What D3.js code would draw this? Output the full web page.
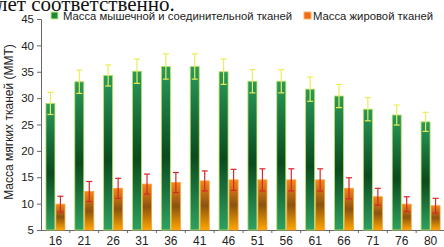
<!DOCTYPE html>
<html>
<head>
<meta charset="utf-8">
<script src="https://cdn.jsdelivr.net/npm/d3@7"></script>
<style>
body { margin: 0; background: #fff; }
svg { display: block; font-family: "Liberation Sans", Arial, sans-serif; }
</style>
</head>
<body>
<script>
var w = 444, h = 247;

var ages = ["16","21","26","31","36","41","46","51","56","61","66","71","76","80"];
var muscle = [29.0, 33.1, 34.3, 35.1, 36.0, 36.0, 35.0, 33.2, 33.2, 31.7, 30.4, 27.9, 26.8, 25.5];
var muscleErr = [2.1, 2.2, 2.0, 2.3, 2.4, 2.4, 2.4, 2.2, 2.2, 2.3, 2.2, 2.2, 1.9, 1.8];
var fat = [9.9, 12.3, 12.9, 13.7, 14.0, 14.3, 14.5, 14.5, 14.5, 14.5, 12.9, 11.3, 9.9, 9.6];
var fatErr = [1.5, 1.9, 1.9, 1.9, 1.9, 1.9, 2.0, 2.1, 2.1, 2.1, 2.0, 1.6, 1.4, 1.4];
var yTicks = [5, 10, 15, 20, 25, 30, 35, 40, 45];
var seriesNames = ["Масса мышечной и соединительной тканей", "Масса жировой тканей"];

var svg = d3.select("body").append("svg").attr("width", w).attr("height", h);

var defs = svg.append("defs");
var gg = defs.append("linearGradient").attr("id", "gGreen").attr("x1", 0).attr("y1", 0).attr("x2", 0).attr("y2", 1);
gg.append("stop").attr("offset", "0%").attr("stop-color", "#2a9a5c");
gg.append("stop").attr("offset", "55%").attr("stop-color", "#0a4a1f");
gg.append("stop").attr("offset", "100%").attr("stop-color", "#2fa062");
var go = defs.append("linearGradient").attr("id", "gOrange").attr("x1", 0).attr("y1", 0).attr("x2", 0).attr("y2", 1);
go.append("stop").attr("offset", "0%").attr("stop-color", "#f5861a");
go.append("stop").attr("offset", "50%").attr("stop-color", "#8a5410");
go.append("stop").attr("offset", "100%").attr("stop-color", "#ffa600");

var x = d3.scaleBand().domain(ages).range([41, 445]);
var y = d3.scaleLinear().domain([5, 45]).range([230, 19]);

// page text above the chart (cut off)
svg.append("text").attr("x", -3).attr("y", 11)
	.style("font-family", "'Liberation Serif', 'Times New Roman', serif")
	.style("font-size", "21px").attr("fill", "#111")
	.text("лет соответственно.");

// y axis
var yAxis = d3.axisLeft(y).tickValues(yTicks).tickSize(4).tickPadding(3);
var gy = svg.append("g").attr("transform", "translate(41,0)").call(yAxis);
gy.select(".domain").attr("stroke", "#666");
gy.selectAll(".tick line").attr("stroke", "#666");
gy.selectAll("text").style("font-size", "11.5px").attr("fill", "#222");

// x axis
var xAxis = d3.axisBottom(x).tickSize(0).tickPadding(6);
var gx = svg.append("g").attr("transform", "translate(0,230)").call(xAxis);
gx.select(".domain").attr("stroke", "#666");
gx.selectAll("text").style("font-size", "12px").attr("fill", "#222");
gx.selectAll(".sep").data(ages.slice(1)).enter().append("line")
	.attr("x1", function(d){ return x(d); }).attr("x2", function(d){ return x(d); })
	.attr("y1", 0).attr("y2", 3).attr("stroke", "#666");

svg.append("text").attr("transform", "translate(13,122) rotate(-90)")
	.attr("text-anchor", "middle").style("font-size", "12px").attr("fill", "#222")
	.text("Масса мягких тканей (ММТ)");

var bw = 9;
function cx(d){ return x(d) + x.bandwidth() / 2; }

svg.selectAll(".gbar").data(ages).enter().append("rect")
	.attr("x", function(d){ return cx(d) - bw - 0.5; })
	.attr("y", function(d,i){ return y(muscle[i]); })
	.attr("width", bw)
	.attr("height", function(d,i){ return y(5) - y(muscle[i]); })
	.attr("fill", "url(#gGreen)").attr("stroke", "#b9e25a").attr("stroke-width", 0.8);

svg.selectAll(".obar").data(ages).enter().append("rect")
	.attr("x", function(d){ return cx(d) + 0.5; })
	.attr("y", function(d,i){ return y(fat[i]); })
	.attr("width", bw)
	.attr("height", function(d,i){ return y(5) - y(fat[i]); })
	.attr("fill", "url(#gOrange)").attr("stroke", "#f6a030").attr("stroke-width", 0.8);

function errBars(vals, errs, off, color) {
	var g = svg.append("g").attr("stroke", color).attr("stroke-width", 1.2);
	ages.forEach(function(d, i) {
		var c = cx(d) + off;
		var t = y(vals[i] + errs[i]), b = y(vals[i] - errs[i]);
		g.append("line").attr("x1", c).attr("x2", c).attr("y1", t).attr("y2", b);
		g.append("line").attr("x1", c - 3).attr("x2", c + 3).attr("y1", t).attr("y2", t);
		g.append("line").attr("x1", c - 3).attr("x2", c + 3).attr("y1", b).attr("y2", b);
	});
}
errBars(muscle, muscleErr, -bw / 2 - 0.5, "#ecec58");
errBars(fat, fatErr, bw / 2 + 0.5, "#d8262a");

// legend
var lg = svg.append("g").style("font-size", "11.3px");
lg.append("rect").attr("x", 51).attr("y", 12).attr("width", 7).attr("height", 7)
	.attr("fill", "#1f8a3a").attr("stroke", "#c6f08a");
lg.append("text").attr("x", 63).attr("y", 19.5).attr("fill", "#222").text(seriesNames[0]);
lg.append("rect").attr("x", 304).attr("y", 12).attr("width", 7).attr("height", 7)
	.attr("fill", "#f06a10").attr("stroke", "#f8b070");
lg.append("text").attr("x", 313).attr("y", 19.5).attr("fill", "#222").text(seriesNames[1]);
</script>
</body>
</html>
